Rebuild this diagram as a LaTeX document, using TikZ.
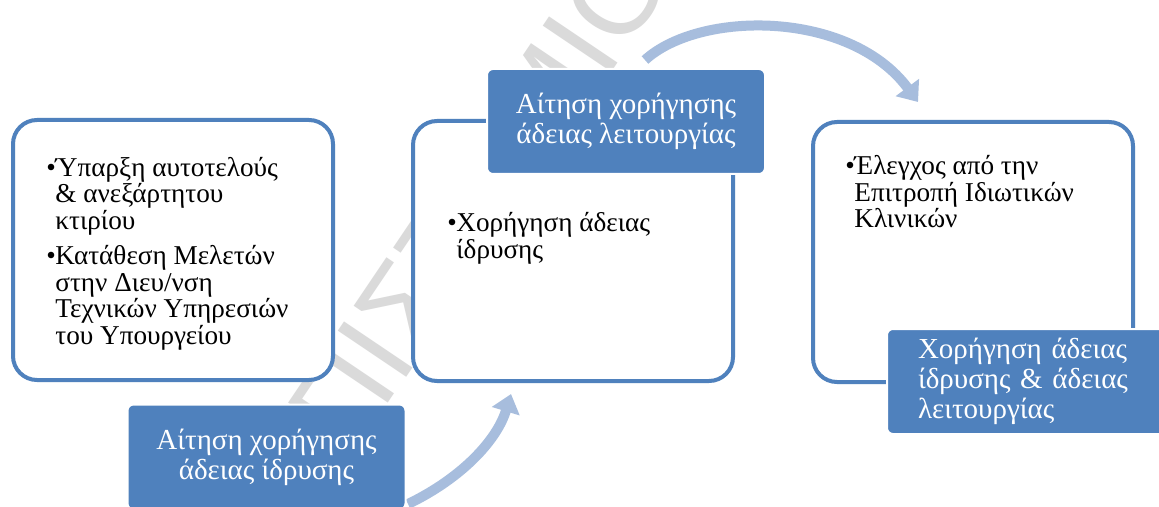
\documentclass[tikz,border=0pt]{standalone}
\usepackage{fontspec}
\setmainfont{Liberation Serif}
\newfontfamily\wmfont{Liberation Sans}
\usetikzlibrary{arrows.meta}
\definecolor{boxblue}{HTML}{4F81BD}
\definecolor{arrowblue}{HTML}{A7BDDD}
\definecolor{wmgray}{HTML}{DADADA}
\newcommand\bul{\makebox[4.5pt][l]{•}}
\newcommand\ind{\hspace*{4.5pt}}
\begin{document}
\begin{tikzpicture}[x=0.5pt,y=-0.5pt,
  stagebox/.style={draw=boxblue,line width=2pt,rounded corners=12pt,fill=white,minimum width=160pt,minimum height=130pt,inner sep=0pt},
  labelbox/.style={fill=boxblue,draw=white,line width=1pt,rounded corners=3pt,text=white,font=\fontsize{14.5}{15}\selectfont,inner sep=0pt,align=center,minimum width=139pt,minimum height=52.5pt},
  bodytext/.style={anchor=base west,align=left,font=\fontsize{13.6}{13.25}\selectfont,inner sep=0pt,text=black},
  flow/.style={draw=arrowblue,line width=5pt,-{Triangle[width=14pt,length=9pt]}}
]
\clip (0,0) rectangle (1159,507);
\fill[white] (0,0) rectangle (1159,507);
% watermark
\node[rotate=56,anchor=base east,text=wmgray,font=\wmfont\fontsize{60}{60}\selectfont,inner sep=0pt] (wm) at (419,358) {ΠΑΝΕΠΙ\rlap{ΣΤΗΜΙΟ}};
% arrows
\coordinate (a1s) at (408,504);
\coordinate (a1e) at (511,394);
\draw[flow] (a1s) .. controls (462,478) and (497,440) .. (a1e);
\coordinate (a2s) at (645,60);
\coordinate (a2e) at (918,102);
\draw[flow] (a2s) .. controls (700,10) and (850,10) .. (a2e);
% stage boxes
\node[stagebox] (L) at (173,250) {};
\node[stagebox] (M) at (573,251) {};
\node[stagebox] (R) at (973,252) {};
% body texts
\node[bodytext] (Lt) at (46,344) {\bul Ύπαρξη αυτοτελούς\\\ind\& ανεξάρτητου\\\ind κτιρίου\\[4.5pt]\bul Κατάθεση Μελετών\\\ind στην Διευ/νση\\\ind Τεχνικών Υπηρεσιών\\\ind του Υπουργείου};
\node[bodytext] (Mt) at (447,258) {\bul Χορήγηση άδειας\\\ind ίδρυσης};
\node[bodytext] (Rt) at (845,228) {\bul Έλεγχος από την\\\ind Επιτροπή Ιδιωτικών\\\ind Κλινικών};
% labels
\node[labelbox] (ML) at (626,121.5) {Αίτηση χορήγησης\\άδειας λειτουργίας};
\node[labelbox] (BL) at (266.5,457) {Αίτηση χορήγησης\\άδειας ίδρυσης};
\node[labelbox,align=left,text width=110pt,inner xsep=15.5pt,minimum width=0pt] (RL) at (1028,381.5) {Χορήγηση άδειας\\ίδρυσης \& άδειας\\λειτουργίας};
\end{tikzpicture}
\end{document}
